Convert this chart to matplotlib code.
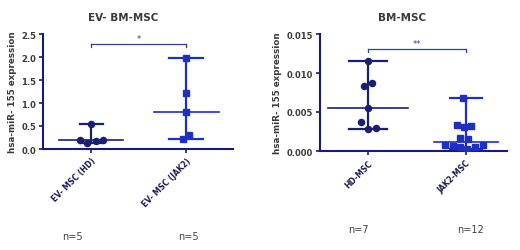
import numpy as np
import matplotlib.pyplot as plt

# ---- data ----
left_title = "EV- BM-MSC"
left_cats = ["EV- MSC (HD)", "EV- MSC (JAK2)"]
left_hd = [0.55, 0.19, 0.13, 0.17, 0.19]
left_hd_off = [0.0, -0.12, -0.04, 0.05, 0.12]
left_jak = [1.97, 1.22, 0.80, 0.22, 0.31]
left_jak_off = [0.0, 0.0, 0.0, -0.04, 0.03]
left_n = ["n=5", "n=5"]
left_sig = "*"

right_title = "BM-MSC"
right_cats = ["HD-MSC", "JAK2-MSC"]
right_hd = [0.0115, 0.0087, 0.0083, 0.0055, 0.0037, 0.0030, 0.0028]
right_hd_off = [0.0, 0.04, -0.04, 0.0, -0.07, 0.08, 0.0]
right_jak = [0.0068, 0.0033, 0.0031, 0.0032, 0.0017, 0.0015,
             0.0008, 0.0006, 0.0005, 0.0003, 0.0005, 0.0008]
right_jak_off = [-0.03, -0.09, -0.02, 0.05, -0.06, 0.02,
                 -0.21, -0.13, -0.06, 0.01, 0.09, 0.17]
right_n = ["n=7", "n=12"]
right_sig = "**"

ylabel = "hsa-miR- 155 expression"

NAVY = "#1c1e6e"
BLUE = "#1f2fbf"
AXC = "#1a1a72"
TXT = "#3a3a3a"

fig = plt.figure(figsize=(5.2, 2.51), dpi=100)
fig.patch.set_facecolor("white")


def panel(rect, title, title_x, cats, g1, o1, g2, o2, ylim, yticks, yfmt, xlim,
          med_hw, cap_hw, sig, sig_y, ticklen, n_labels, n_x, n_y):
    ax = fig.add_axes(rect)
    groups = [(g1, o1, "o", NAVY, med_hw[0], cap_hw[0]),
              (g2, o2, "s", BLUE, med_hw[1], cap_hw[1])]
    for i, (vals, offs, mk, col, mh, ch) in enumerate(groups):
        v = np.array(vals)
        med = np.median(v)
        lo, hi = v.min(), v.max()
        ax.plot([i, i], [lo, hi], color=col, lw=1.6, zorder=2)
        ax.plot([i - ch, i + ch], [hi, hi], color=col, lw=1.6, zorder=2)
        ax.plot([i - ch, i + ch], [lo, lo], color=col, lw=1.6, zorder=2)
        ax.plot([i - mh, i + mh], [med, med], color=col, lw=1.2, zorder=2)
        ax.plot(i + np.array(offs), v, linestyle="none", marker=mk,
                color=col, markersize=4.4, zorder=3)
    # significance bracket
    ax.plot([0, 1], [sig_y, sig_y], color="#3a3f8f", lw=0.9)
    ax.plot([0, 0], [sig_y, sig_y - ticklen], color="#3a3f8f", lw=0.9)
    ax.plot([1, 1], [sig_y, sig_y - ticklen], color="#3a3f8f", lw=0.9)
    ax.text(0.5, sig_y + ticklen * 0.3, sig, ha="center", va="bottom",
            fontsize=6, color="#3a3f8f")
    ax.set_xlim(*xlim)
    ax.set_ylim(*ylim)
    ax.set_yticks(yticks)
    ax.set_yticklabels([yfmt.format(t) for t in yticks], fontsize=6,
                       fontweight="bold", color=TXT)
    ax.set_xticks([0, 1])
    ax.set_xticklabels(cats, rotation=45, ha="right", rotation_mode="anchor",
                       fontsize=5.5, fontweight="bold", color="#1a1a50")
    for s in ["top", "right"]:
        ax.spines[s].set_visible(False)
    for s in ["left", "bottom"]:
        ax.spines[s].set_color(AXC)
        ax.spines[s].set_linewidth(1.5)
    ax.tick_params(axis="both", colors=AXC, width=1.2, length=3, pad=2)
    for lab in ax.get_yticklabels():
        lab.set_color(TXT)
    for lab in ax.get_xticklabels():
        lab.set_color("#1a1a50")
    ax.set_ylabel(ylabel, fontsize=6.3, fontweight="bold", color=TXT,
                  labelpad=3)
    ax.set_title(title, fontsize=7.5, fontweight="bold", color=TXT, pad=10,
                 x=title_x)
    ax.patch.set_alpha(0)
    for lab, x, y in zip(n_labels, n_x, n_y):
        fig.text(x / 520, 1 - y / 251, lab, ha="center", va="center",
                 fontsize=7, color="#444444")
    return ax


panel([43 / 520, 1 - 150 / 251, 190 / 520, 115 / 251], left_title, 0.42,
      left_cats, left_hd, left_hd_off, left_jak, left_jak_off,
      (0, 2.5), [0.0, 0.5, 1.0, 1.5, 2.0, 2.5], "{:.1f}",
      (-0.505, 1.49), (0.34, 0.34), (0.12, 0.18),
      left_sig, 2.28, 0.06, left_n, [72, 188], [237, 237])

panel([320 / 520, 1 - 152 / 251, 187 / 520, 117 / 251], right_title, 0.44,
      right_cats, right_hd, right_hd_off, right_jak, right_jak_off,
      (0, 0.015), [0.0, 0.005, 0.010, 0.015], "{:.3f}",
      (-0.49, 1.42), (0.41, 0.33), (0.19, 0.16),
      right_sig, 0.0131, 0.0004, right_n, [358, 470], [230, 230])

fig.savefig("out.png", dpi=100)
